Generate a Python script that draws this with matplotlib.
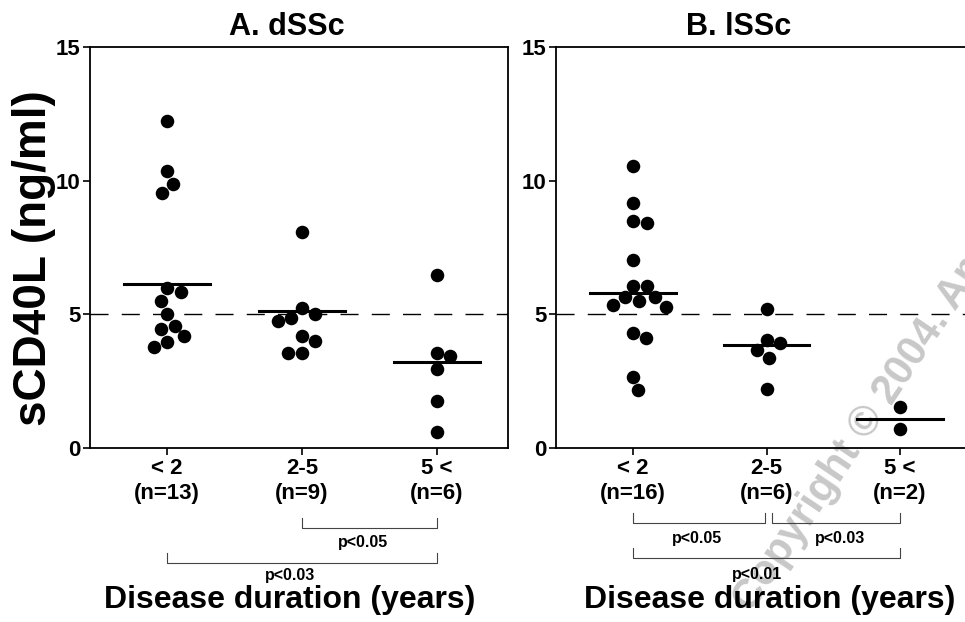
import matplotlib
matplotlib.use("Agg")
import matplotlib.pyplot as plt
import matplotlib.transforms as mtransforms
import numpy as np

plt.rcParams['font.family'] = ['Liberation Sans', 'DejaVu Sans']
plt.rcParams['font.weight'] = 'bold'

# sCD40L values (ng/ml)
cats = ["< 2", "2-5", "5 <"]

dssc_lt2 = [12.24, 10.35, 9.87, 9.52, 5.97, 5.84, 5.50, 5.00, 4.57, 4.45, 4.18, 3.97, 3.78]
dssc_2to5 = [8.08, 5.22, 5.03, 4.88, 4.76, 4.20, 4.00, 3.57, 3.57]
dssc_gt5 = [6.47, 3.57, 3.43, 2.95, 1.77, 0.60]
dssc_means = [6.13, 5.12, 3.20]

lssc_lt2 = [10.56, 9.15, 8.48, 8.40, 7.03, 6.06, 6.06, 5.63, 5.63, 5.50, 5.35, 5.29,
            4.31, 4.13, 2.65, 2.16]
lssc_2to5 = [5.19, 4.03, 3.94, 3.65, 3.38, 2.19]
lssc_gt5 = [1.53, 0.71]
lssc_means = [5.81, 3.84, 1.09]

cutoff = 5.0

# brackets: (from, to, label)
dssc_pvals = [(1, 2, "p<0.05"), (0, 2, "p<0.03")]
lssc_pvals = [(0, 1, "p<0.05"), (1, 2, "p<0.03"), (0, 2, "p<0.01")]


def swarm(vals, d, sx, sy):
    # simple beeswarm: place each dot as close to the centre as it fits
    placed = []
    offs = []
    for v in vals:
        y = v * sy
        cands = [0.0]
        for px, py in placed:
            dy = abs(py - y)
            if dy < d:
                dx = np.sqrt(d ** 2 - dy ** 2)
                cands += [px + dx, px - dx]
        cands.sort(key=abs)
        for c in cands:
            if all((c - px) ** 2 + (y - py) ** 2 >= d ** 2 - 1e-6 for px, py in placed):
                break
        placed.append((c, y))
        offs.append(c / sx)
    return np.array(offs)


def panel(ax, groups, means, xlim):
    ax.set_xlim(*xlim)
    ax.set_ylim(0, 15)
    ax.set_facecolor('none')
    sx = ax.bbox.width / (xlim[1] - xlim[0])
    sy = ax.bbox.height / 15
    for i, g in enumerate(groups):
        offs = swarm(g, 14.0, sx, sy)
        ax.scatter(i + offs, g, s=95, color='black', zorder=3, linewidths=0)
        ax.plot([i - 0.32, i + 0.32], [means[i], means[i]], color='black', lw=2.2, zorder=4)
    ax.axhline(cutoff, color='black', lw=1, ls=(0, (13, 9.5)), zorder=2)
    ax.set_xticks(range(len(cats)))
    ax.set_xticklabels([f"{c}\n(n={len(g)})" for c, g in zip(cats, groups)],
                       fontsize=16, fontweight='bold', linespacing=1.25)
    ax.set_yticks([0, 5, 10, 15])
    ax.set_yticklabels(["0", "5", "10", "15"], fontsize=16, fontweight='bold')
    ax.tick_params(axis='both', direction='out', length=5, width=1.2, pad=2)
    for s in ax.spines.values():
        s.set_linewidth(1.3)


def brackets(ax, pvals, levels, text_pos):
    tr = mtransforms.blended_transform_factory(ax.transData, ax.transAxes)
    for (a, b, lab), lev, tp in zip(pvals, levels, text_pos):
        ax.plot([a, a, b, b], [lev + 0.025, lev, lev, lev + 0.025], color='#444444',
                lw=0.8, transform=tr, clip_on=False)
        ax.text(tp[0], tp[1], lab, transform=tr, ha='center', va='baseline',
                fontsize=11.5, fontweight='bold')


fig = plt.figure(figsize=(9.65, 6.22), dpi=100)
W, H = 965.0, 622.0
axA = fig.add_axes([90 / W, 1 - 448 / H, 418 / W, 401 / H])
axB = fig.add_axes([556 / W, 1 - 448 / H, 418 / W, 401 / H])

panel(axA, [dssc_lt2, dssc_2to5, dssc_gt5], dssc_means, (-0.57, 2.526))
panel(axB, [lssc_lt2, lssc_2to5, lssc_gt5], lssc_means, (-0.577, 2.554))


def yfrac(px):
    # pixel row below the axes -> axes fraction
    return (448 - px) / 401.0


brackets(axA, dssc_pvals, [yfrac(528), yfrac(563)],
         [(1.45, yfrac(547)), (0.91, yfrac(580))])
# small gap in the middle of panel B so the two short brackets don't touch
brackets(axB, [(0, 0.99, lssc_pvals[0][2]), (1.04, 2, lssc_pvals[1][2]), lssc_pvals[2]],
         [yfrac(523), yfrac(523), yfrac(558)],
         [(0.48, yfrac(543)), (1.55, yfrac(543)), (0.93, yfrac(579))])

fig.text(287 / W, 1 - 35 / H, "A. dSSc", ha='center', va='baseline', fontsize=22, fontweight='bold')
fig.text(739 / W, 1 - 35 / H, "B. lSSc", ha='center', va='baseline', fontsize=22, fontweight='bold')
fig.text(34 / W, 1 - 258 / H, "sCD40L (ng/ml)", rotation=90, ha='center', va='center',
         fontsize=33, fontweight='bold')
fig.text(290 / W, 1 - 608 / H, "Disease duration (years)", ha='center', va='baseline',
         fontsize=23, fontweight='bold')
fig.text(770 / W, 1 - 608 / H, "Disease duration (years)", ha='center', va='baseline',
         fontsize=23, fontweight='bold')

# faint copyright watermark
fig.text(752 / W, 1 - 614 / H, "Copyright \u00a9 2004. American College of Rheumatology",
         rotation=56, rotation_mode='anchor', ha='left', va='baseline', fontsize=30,
         fontweight='bold', color='#c8c8c8', zorder=-1)

fig.savefig("out.png", dpi=100, facecolor='white')
